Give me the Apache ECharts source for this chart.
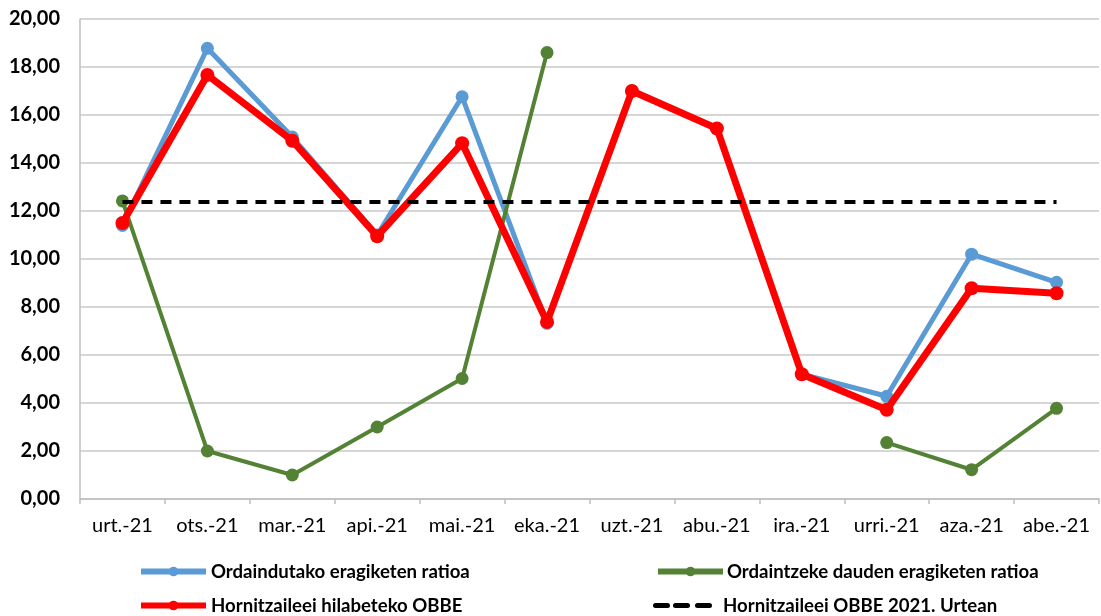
<!DOCTYPE html>
<html>
<head>
<meta charset="utf-8">
<script src="https://cdn.jsdelivr.net/npm/echarts@6/dist/echarts.min.js"></script>
<style>
html,body{margin:0;padding:0;background:#fff;}
#chart{width:1101px;height:616px;}
</style>
</head>
<body>
<div id="chart"></div>
<script>
const categories = ['urt.-21','ots.-21','mar.-21','api.-21','mai.-21','eka.-21','uzt.-21','abu.-21','ira.-21','urri.-21','aza.-21','abe.-21'];
const ordaindutako = [11.4, 18.78, 15.08, 11.0, 16.76, 7.32, 17.0, 15.44, 5.2, 4.28, 10.2, 9.03];
const ordaintzeke = [12.42, 2.0, 1.0, 3.0, 5.02, 18.6, null, null, null, 2.35, 1.22, 3.78];
const hilabeteko = [11.5, 17.67, 14.93, 10.95, 14.82, 7.38, 17.0, 15.44, 5.2, 3.72, 8.78, 8.57];
const urtean = [12.38, 12.38, 12.38, 12.38, 12.38, 12.38, 12.38, 12.38, 12.38, 12.38, 12.38, 12.38];
const yTicks = {min: 0, max: 20, interval: 2};
const names = ['Ordaindutako eragiketen ratioa','Ordaintzeke dauden eragiketen ratioa','Hornitzaileei hilabeteko OBBE','Hornitzaileei OBBE 2021. Urtean'];

const font = "Lato, sans-serif";
const chart = echarts.init(document.getElementById('chart'));
function leg(name, left, top, w, padL, icon){
  return {
    data:[icon ? {name:name, icon:icon} : name], left:left, top:top, orient:'horizontal',
    padding:0, itemWidth:w, itemHeight: icon ? 5 : 12, itemGap:0,
    lineStyle:{width:6},
    textStyle:{fontFamily:font, fontWeight:'bold', fontSize:18.6, color:'#000', padding:[0,0,0,padL]},
    selectedMode:false
  };
}
chart.setOption({
  animation:false,
  backgroundColor:'#fff',
  grid:{left:80, right:2, top:19, bottom:117, containLabel:false},
  legend:[
    leg(names[0],138,562,65,0),
    leg(names[1],655,562,65,-1),
    leg(names[2],138,596,65,0),
    leg(names[3],653,596,59,6,'path://M2,0h12a2,2 0 0 1 0,5h-12a2,2 0 0 1 0,-5z M22,0h12a2,2 0 0 1 0,5h-12a2,2 0 0 1 0,-5z M44,0h12a2,2 0 0 1 0,5h-12a2,2 0 0 1 0,-5z')
  ],
  xAxis:{
    type:'category', data:categories, boundaryGap:true,
    axisLine:{lineStyle:{color:'#bfbfbf', width:1.5}},
    axisTick:{show:true, alignWithLabel:false, interval:0, length:5, lineStyle:{color:'#bfbfbf', width:1.5}},
    axisLabel:{fontFamily:font, fontSize:20, color:'#000', margin:17, interval:0}
  },
  yAxis:{
    type:'value', min:yTicks.min, max:yTicks.max, interval:yTicks.interval,
    axisLine:{show:true, lineStyle:{color:'#bfbfbf', width:1.5}},
    axisTick:{show:false},
    splitLine:{lineStyle:{color:'#c8c8c8', width:1.5}},
    axisLabel:{fontFamily:font, fontSize:20, fontWeight:'bold', color:'#000', margin:20,
      formatter:v=>v.toFixed(2).replace('.', ',')}
  },
  series:[
    {name:names[0], type:'line', data:ordaindutako, symbol:'circle', symbolSize:13,
     lineStyle:{color:'#5b9bd5', width:5}, itemStyle:{color:'#5b9bd5'}, z:2},
    {name:names[1], type:'line', data:ordaintzeke, symbol:'circle', symbolSize:13, connectNulls:false,
     lineStyle:{color:'#548235', width:4}, itemStyle:{color:'#548235'}, z:3},
    {name:names[2], type:'line', data:hilabeteko, symbol:'circle', symbolSize:14,
     lineStyle:{color:'#ff0000', width:7}, itemStyle:{color:'#ff0000'}, z:4},
    {name:names[3], type:'line', data:urtean, symbol:'none',
     lineStyle:{color:'#000', width:4, type:[11,8]}, itemStyle:{color:'#000'}, z:5}
  ]
});
</script>
</body>
</html>
